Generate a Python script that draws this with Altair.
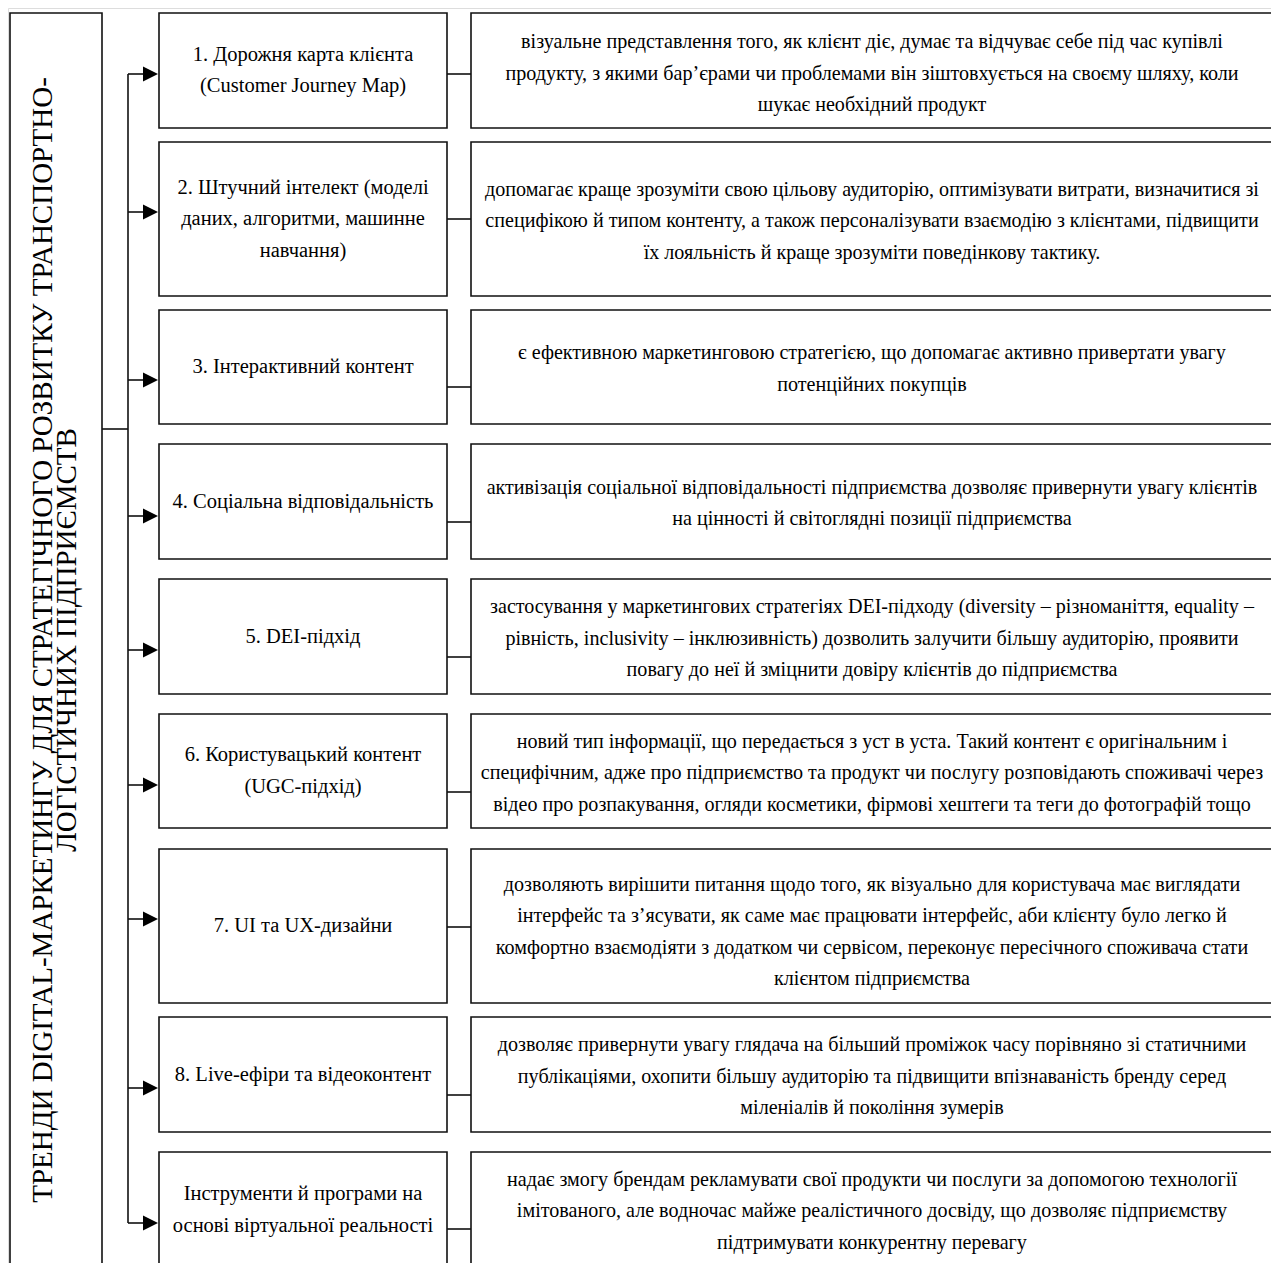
import altair as alt
import pandas as pd

# ---- content ----
title_lines = [
    "ТРЕНДИ  DIGITAL-МАРКЕТИНГУ ДЛЯ СТРАТЕГІЧНОГО РОЗВИТКУ ТРАНСПОРТНО-",
    "ЛОГІСТИЧНИХ ПІДПРИЄМСТВ",
]

trend_labels = [
    ["1. Дорожня карта клієнта", "(Customer Journey Map)"],
    ["2. Штучний інтелект (моделі", "даних, алгоритми, машинне", "навчання)"],
    ["3. Інтерактивний контент"],
    ["4. Соціальна відповідальність"],
    ["5. DEI-підхід"],
    ["6. Користувацький контент", "(UGC-підхід)"],
    ["7. UI та UX-дизайни"],
    ["8. Live-ефіри та відеоконтент"],
    ["Інструменти й програми на", "основі віртуальної реальності"],
]

descriptions = [
    ["візуальне представлення того, як клієнт діє, думає та відчуває себе під час купівлі",
     "продукту, з якими бар’єрами чи проблемами він зіштовхується на своєму шляху, коли",
     "шукає необхідний продукт"],
    ["допомагає краще зрозуміти свою цільову аудиторію, оптимізувати витрати, визначитися зі",
     "специфікою й типом контенту, а також персоналізувати взаємодію з клієнтами, підвищити",
     "їх лояльність й краще зрозуміти поведінкову тактику."],
    ["є ефективною маркетинговою стратегією, що допомагає активно привертати увагу",
     "потенційних покупців"],
    ["активізація соціальної відповідальності підприємства дозволяє привернути увагу клієнтів",
     "на цінності й світоглядні позиції підприємства"],
    ["застосування у маркетингових стратегіях DEI-підходу (diversity – різноманіття, equality –",
     "рівність, inclusivity – інклюзивність)  дозволить залучити більшу аудиторію, проявити",
     "повагу до неї й зміцнити довіру клієнтів до підприємства"],
    ["новий тип інформації, що передається з уст в уста. Такий контент є оригінальним і",
     "специфічним, адже про підприємство та продукт чи послугу розповідають споживачі через",
     "відео про розпакування, огляди косметики, фірмові хештеги та теги до фотографій тощо"],
    ["дозволяють вирішити питання щодо того, як візуально для користувача має виглядати",
     "інтерфейс та з’ясувати, як саме має працювати інтерфейс, аби клієнту було легко й",
     "комфортно взаємодіяти з додатком чи сервісом, переконує пересічного споживача стати",
     "клієнтом підприємства"],
    ["дозволяє привернути увагу глядача на більший проміжок часу порівняно зі статичними",
     "публікаціями, охопити більшу аудиторію та підвищити впізнаваність бренду серед",
     "міленіалів й покоління зумерів"],
    ["надає змогу брендам рекламувати свої продукти чи послуги за допомогою технології",
     "імітованого, але водночас майже реалістичного досвіду, що дозволяє підприємству",
     "підтримувати конкурентну перевагу"],
]

# ---- layout (page pixel units) ----
row_top = [13, 142, 310, 444, 579, 714, 849, 1017, 1152]
row_bottom = [128, 296, 424, 559, 694, 828, 1003, 1132, 1272]
arrow_y = [74, 212, 380, 516, 650, 785, 919, 1088, 1223]
link_y = [74, 219, 387, 522, 657, 792, 927, 1095, 1229]
text_shift = [1, 0, 0, 0, 0, 0, 4, 0, -1]

LEFT_X0, LEFT_X1 = 10, 102
TRUNK_X = 128
MID_X0, MID_X1 = 159, 447
RIGHT_X0, RIGHT_X1 = 471, 1276
TRI_X = 150.5
LINE_H = 31.5

# ---- tables ----
rects = [dict(x=LEFT_X0, x2=LEFT_X1, y=13, y2=1275)]
for t, b in zip(row_top, row_bottom):
    rects.append(dict(x=MID_X0, x2=MID_X1, y=t, y2=b))
    rects.append(dict(x=RIGHT_X0, x2=RIGHT_X1, y=t, y2=b))
rects = pd.DataFrame(rects)

rules = [dict(x=TRUNK_X, x2=TRUNK_X, y=arrow_y[0], y2=arrow_y[-1]),
         dict(x=LEFT_X1, x2=TRUNK_X, y=429, y2=429)]
for ay, ly in zip(arrow_y, link_y):
    rules.append(dict(x=TRUNK_X, x2=TRI_X, y=ay, y2=ay))
    rules.append(dict(x=MID_X1, x2=RIGHT_X0, y=ly, y2=ly))
rules = pd.DataFrame(rules)

arrows = pd.DataFrame(dict(x=[TRI_X] * len(arrow_y), y=arrow_y))

mid_text = []
right_text = []
for i, (t, b) in enumerate(zip(row_top, row_bottom)):
    cy = (t + min(b, 1268)) / 2
    lines = trend_labels[i]
    n = len(lines)
    for j, s in enumerate(lines):
        mid_text.append(dict(x=(MID_X0 + MID_X1) / 2, y=cy + (j - (n - 1) / 2) * LINE_H, text=s))
    lines = descriptions[i]
    n = len(lines)
    for j, s in enumerate(lines):
        right_text.append(dict(x=(RIGHT_X0 + 1273) / 2,
                               y=cy + 2 + text_shift[i] + (j - (n - 1) / 2) * LINE_H, text=s))
mid_text = pd.DataFrame(mid_text)
right_text = pd.DataFrame(right_text)

vert_text = pd.DataFrame(dict(x=[52, 76], y=[640, 640], text=title_lines))

# ---- scales ----
xs = alt.Scale(domain=[8, 1271], nice=False, zero=False)
ys = alt.Scale(domain=[8, 1263], nice=False, zero=False, reverse=True)
FONT = "'Liberation Serif', 'Times New Roman', 'DejaVu Serif', serif"

rect_layer = alt.Chart(rects).mark_rect(fill="white", stroke="#111", strokeWidth=1.6).encode(
    x=alt.X("x:Q", scale=xs, axis=None), x2="x2:Q",
    y=alt.Y("y:Q", scale=ys, axis=None), y2="y2:Q")

rule_layer = alt.Chart(rules).mark_rule(color="#111", strokeWidth=1.6).encode(
    x=alt.X("x:Q", scale=xs, axis=None), x2="x2:Q",
    y=alt.Y("y:Q", scale=ys, axis=None), y2="y2:Q")

arrow_layer = alt.Chart(arrows).mark_point(
    shape="M-1,-1L1,0L-1,1Z", size=225, filled=True, color="#000", opacity=1, strokeWidth=0
).encode(x=alt.X("x:Q", scale=xs, axis=None), y=alt.Y("y:Q", scale=ys, axis=None))

mid_layer = alt.Chart(mid_text).mark_text(
    font=FONT, fontSize=20.5, align="center", baseline="middle", color="#000"
).encode(x=alt.X("x:Q", scale=xs, axis=None), y=alt.Y("y:Q", scale=ys, axis=None), text="text:N")

right_layer = alt.Chart(right_text).mark_text(
    font=FONT, fontSize=20.1, align="center", baseline="middle", color="#000"
).encode(x=alt.X("x:Q", scale=xs, axis=None), y=alt.Y("y:Q", scale=ys, axis=None), text="text:N")

vert_layer = alt.Chart(vert_text).mark_text(
    font=FONT, fontSize=29, align="center", baseline="alphabetic", angle=270, color="#000"
).encode(x=alt.X("x:Q", scale=xs, axis=None), y=alt.Y("y:Q", scale=ys, axis=None), text="text:N")

chart = alt.layer(rect_layer, rule_layer, arrow_layer, mid_layer, right_layer, vert_layer).properties(
    width=1263, height=1255, padding=0, autosize=alt.AutoSizeParams(type="none")
).configure_view(stroke="transparent", strokeWidth=0).configure(background="white")

chart.save("out.html", embed_options={"renderer": "svg", "actions": False})
